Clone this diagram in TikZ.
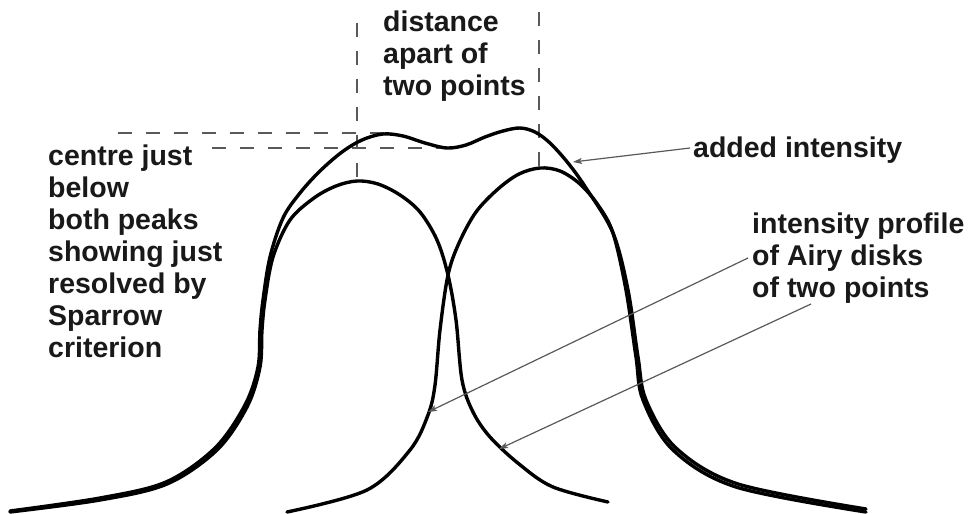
\documentclass[tikz,border=0pt]{standalone}
\usepackage{fontspec}
\setmainfont{Liberation Sans}
\usetikzlibrary{arrows.meta}
\begin{document}
\begin{tikzpicture}[x=1pt,y=-1pt,
  curve/.style={line width=3.4pt,line join=round,line cap=round,black},
  guide/.style={line width=1.5pt,draw=black!65,dash pattern=on 14pt off 14pt},
  lbl/.style={font=\fontsize{28.5}{32}\selectfont\bfseries,align=left,anchor=base west,inner sep=0pt,text=black!90},
  arr/.style={line width=1.2pt,draw=black!65,-{Stealth[length=9pt,width=6pt,inset=2pt]}}]
\useasboundingbox (0,0) rectangle (972,514);
% guide lines
\draw[guide] (357,23) -- (357,180);
\draw[guide] (539,12) -- (539,167);
\draw[guide] (118,133) -- (390,133);
\draw[guide] (212,148) -- (440,148);
% left Airy disk profile
\draw[curve] plot[smooth,tension=0.55] coordinates {(10,512) (100,500) (167,484) (217,450) (247,407) (260,367) (262,330) (265,300) (273,257) (290,220) (314,198) (336,186) (357,181) (378,184) (400,195) (420,212) (437,240) (448,275) (456,320) (462,380) (473,412) (490,437) (519,464) (553,487) (608,502)};
% right Airy disk profile
\draw[curve] plot[smooth,tension=0.55] coordinates {(287,512) (367,490) (410,450) (428,415) (435,385) (440,330) (448,275) (459,243) (476,212) (498,189) (519,174) (540,168) (560,171) (580,184) (598,205) (613,233) (626,290) (636,357) (643,400) (673,450) (736,487) (866,512)};
% added intensity
\draw[curve] plot[smooth,tension=0.55] coordinates {(10,511) (100,498) (166,482) (215,448) (245,405) (258,367) (260,330) (263,300) (270,257) (283,218) (300,193) (320,171) (342,152) (362,140) (383,134) (403,136) (425,143) (447,148) (466,145) (485,137) (503,131) (520,128) (535,132) (550,143) (568,163) (586,188) (613,233) (628,290) (638,357) (646,400) (676,448) (738,484) (866,509)};
% labels (anchor = baseline of the last line)
\node[lbl] (dist) at (383,95) {distance\\apart of\\two points};
\node[lbl] (centre) at (48,357) {centre just\\below\\both peaks\\showing just\\resolved by\\Sparrow\\criterion};
\node[lbl] (added) at (693,157) {added intensity};
\node[lbl] (profile) at (752,297) {intensity profile\\of Airy disks\\of two points};
% arrow ends
\coordinate (tipA) at (573,162);
\coordinate (tipB) at (428,412);
\coordinate (tipC) at (499,449);
\coordinate (srcA) at (690,148);
\coordinate (srcB) at (748,258);
\coordinate (srcC) at (811,304);
\draw[arr] (srcA) -- (tipA);
\draw[arr] (srcB) -- (tipB);
\draw[arr] (srcC) -- (tipC);
\end{tikzpicture}
\end{document}
